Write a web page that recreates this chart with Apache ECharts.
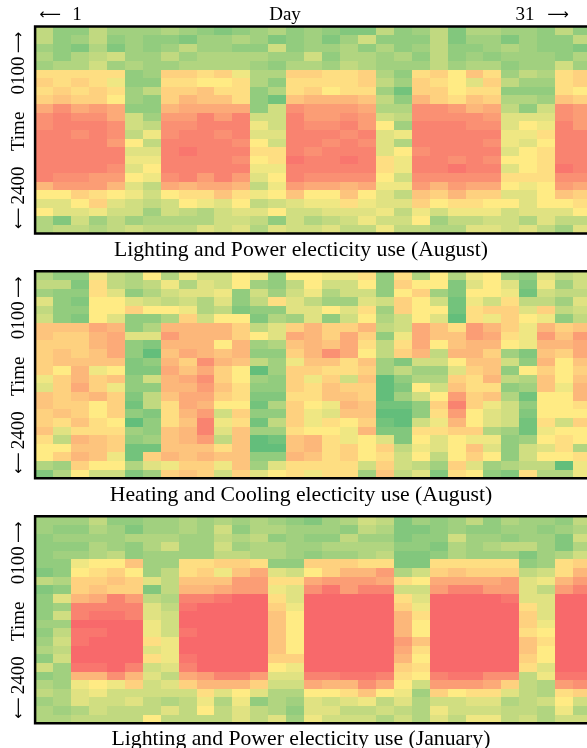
<!DOCTYPE html>
<html><head><meta charset="utf-8">
<style>html,body{margin:0;padding:0;background:#fff;overflow:hidden}#c{width:587px;height:748px}</style>
<script src="https://cdn.jsdelivr.net/npm/echarts@6/dist/echarts.min.js"></script>
</head><body><div id="c"></div>
<script>
const days = ['1','2','3','4','5','6','7','8','9','10','11','12','13','14','15','16','17','18','19','20','21','22','23','24','25','26','27','28','29','30','31'];
const hours = ['0100','0200','0300','0400','0500','0600','0700','0800','0900','1000','1100','1200','1300','1400','1500','1600','1700','1800','1900','2000','2100','2200','2300','2400'];
const captions = ['Lighting and Power electicity use (August)','Heating and Cooling electicity use (August)','Lighting and Power electicity use (January)'];
// values on a 0 (green) .. 10 (yellow) .. 20 (red) scale; rows are hours, columns are days
const lightingAugust = [
[6,3,3,6,4,4,4,5,4,3,2,3,4,5,3,4,3,2,2,6,3,4,6,2,5,5,4,4,3,6,3],
[6,3,4,6,3,4,3,3,2,4,4,5,4,2,3,4,2,4,7,3,3,3,6,2,4,4,2,4,3,3,6],
[4,3,2,5,2,4,3,4,6,4,4,3,3,7,3,4,4,5,3,5,3,4,6,3,3,4,5,4,3,3,2],
[5,3,5,6,7,4,4,6,4,5,5,5,5,4,4,7,3,5,5,4,5,3,6,3,4,3,4,4,4,3,5],
[4,5,5,7,4,5,4,4,5,5,5,5,4,3,5,5,4,6,5,4,4,4,6,4,5,5,3,4,4,7,4],
[11,11,11,11,11,3,4,12,12,11,12,9,5,5,12,12,11,11,12,5,3,11,12,10,13,11,4,6,5,11,12],
[12,11,12,11,9,3,3,11,11,10,10,11,5,3,11,11,11,11,12,6,4,12,11,10,8,12,6,4,4,11,12],
[11,12,11,12,11,4,6,12,12,13,11,11,3,5,11,12,10,11,11,4,1,12,12,10,11,11,3,3,3,11,10],
[12,13,12,12,10,4,3,12,14,13,13,11,3,1,13,14,14,14,13,6,3,14,12,11,13,12,5,5,4,13,12],
[15,17,15,16,15,3,3,14,15,15,15,15,3,7,17,16,16,16,15,5,5,17,17,16,14,15,6,3,7,17,16],
[17,18,17,17,15,7,4,16,16,18,16,18,7,7,18,16,16,17,16,7,6,17,17,17,17,16,8,8,8,17,16],
[17,18,18,18,17,7,6,17,17,18,18,18,9,7,18,17,17,18,16,10,4,18,18,18,17,17,8,10,9,18,16],
[18,18,17,18,17,6,9,17,18,18,17,18,8,8,18,18,18,17,18,8,9,18,18,18,18,18,9,9,11,18,18],
[18,18,18,18,16,10,6,18,18,18,18,17,10,7,18,18,17,18,17,8,5,18,18,18,18,17,9,8,10,18,18],
[18,18,18,18,18,8,8,18,19,18,18,18,11,11,18,17,18,18,18,8,10,17,18,18,18,18,8,10,11,18,18],
[18,18,18,18,18,9,9,18,18,18,18,17,10,11,19,18,18,19,18,11,9,18,18,17,18,17,10,10,11,18,18],
[18,18,18,18,17,8,10,18,18,18,18,18,9,9,18,18,18,18,18,11,9,18,18,19,18,18,8,10,11,19,18],
[18,17,17,16,16,10,9,17,18,16,18,16,8,10,18,17,17,17,17,10,7,17,17,17,17,17,11,11,11,17,17],
[14,16,16,16,14,8,6,15,14,15,15,14,6,9,16,15,15,14,15,9,9,16,14,16,15,15,10,9,10,16,15],
[10,10,12,11,10,9,7,10,11,11,13,11,9,10,13,10,10,13,10,8,6,13,12,14,12,12,8,8,10,13,12],
[8,8,10,12,8,7,6,7,10,9,8,10,6,7,8,9,9,11,9,8,8,12,10,11,11,10,10,8,10,10,11],
[10,8,8,9,7,7,4,7,6,5,7,8,8,10,7,7,8,8,8,9,6,9,7,9,9,9,7,8,8,8,10],
[5,2,7,4,6,4,5,5,5,5,7,7,6,3,7,5,6,7,9,7,7,10,4,6,6,7,7,5,8,6,6],
[5,6,6,5,6,7,6,6,6,8,7,8,5,8,7,7,8,6,6,9,6,6,5,5,8,8,7,8,6,4,8]
];
const hvacAugust = [
[5,3,3,9,6,5,10,5,9,7,7,10,9,3,10,10,9,9,11,3,11,5,10,5,9,10,4,3,8,6,7],
[6,6,2,11,6,5,6,9,5,8,7,10,4,3,6,10,7,7,10,3,12,10,10,2,8,10,8,2,9,4,7],
[4,3,3,11,8,3,5,7,8,8,9,3,7,4,7,9,5,7,7,3,10,12,4,2,10,10,9,1,7,6,6],
[8,3,2,10,10,8,7,6,7,5,8,3,6,11,8,6,4,4,8,7,12,10,7,1,9,7,11,6,6,4,8],
[6,3,3,10,10,12,10,10,9,5,6,2,3,3,8,8,10,8,11,4,12,10,10,1,11,12,12,8,12,6,7],
[7,3,2,10,8,3,3,5,12,7,10,10,2,5,4,8,3,7,10,5,7,10,8,0,11,9,12,10,9,3,6],
[13,13,13,15,14,3,5,14,14,14,14,12,6,8,12,14,12,12,14,6,7,15,13,11,16,14,12,9,14,12,13],
[13,12,12,14,15,8,8,16,14,14,14,12,10,8,15,14,12,15,12,3,9,15,13,13,16,15,11,9,16,13,16],
[12,12,12,14,15,3,2,14,14,14,10,14,4,5,13,14,13,15,11,6,11,15,10,13,14,14,10,9,14,14,15],
[12,13,12,13,15,3,0,13,15,14,13,14,3,3,12,14,17,15,10,6,12,14,6,14,14,12,4,2,13,12,15],
[12,13,13,13,13,2,3,14,12,17,14,13,6,4,9,13,13,11,13,4,2,7,7,10,13,13,7,3,14,10,13],
[12,10,14,9,10,2,2,15,13,15,12,10,0,4,12,12,11,11,12,4,6,4,4,8,12,13,3,10,12,10,12],
[9,12,14,12,13,3,7,14,15,17,12,10,4,3,12,9,12,7,13,0,3,5,5,12,11,14,6,5,13,10,13],
[8,12,15,12,9,3,3,14,14,16,13,11,3,3,12,11,13,12,12,0,2,10,7,13,11,11,3,4,13,9,14],
[13,12,13,14,12,2,6,13,15,15,12,11,2,2,11,11,13,13,12,0,4,7,10,16,12,13,5,1,10,10,14],
[13,12,12,10,12,1,6,11,15,14,10,10,1,5,12,10,9,14,13,1,1,3,12,18,12,9,7,3,10,10,11],
[12,13,12,10,12,3,2,11,14,16,7,12,3,3,12,9,8,13,13,0,0,3,11,16,10,8,7,2,10,10,10],
[12,11,13,11,10,0,3,11,13,18,9,11,1,6,12,9,11,10,12,1,0,7,9,14,10,8,7,1,11,7,12],
[13,8,11,11,11,4,3,13,14,18,8,13,4,4,11,10,10,9,14,2,2,11,11,12,12,5,4,1,9,10,10],
[11,6,14,13,12,3,4,13,14,16,6,13,0,1,13,14,11,9,10,8,2,10,8,10,9,9,3,4,10,11,10],
[10,10,13,13,12,1,1,13,13,13,11,13,0,0,13,14,11,12,10,12,6,9,8,10,13,8,3,7,8,11,5],
[10,12,14,13,9,1,12,14,13,14,13,13,3,3,14,13,11,12,10,11,7,10,6,10,12,10,3,7,10,10,11],
[5,4,12,10,10,5,8,9,12,12,9,13,4,8,11,11,11,11,7,12,7,6,4,12,8,4,5,6,6,0,9],
[2,5,10,7,7,2,4,12,13,12,7,12,8,10,11,9,11,11,4,13,6,8,2,11,10,3,2,11,5,5,9]
];
const lightingJanuary = [
[4,4,4,6,3,3,4,4,5,4,5,4,5,4,3,2,4,5,7,6,2,4,3,4,6,3,5,4,4,3,6],
[4,3,3,5,4,2,4,4,5,4,7,3,5,5,4,4,4,3,6,5,2,2,3,4,3,3,4,4,3,4,5],
[3,4,4,4,4,5,5,5,4,4,6,5,6,3,4,3,3,6,4,4,2,3,3,7,4,4,3,4,4,2,7],
[3,3,3,5,4,3,5,7,4,4,7,4,5,5,4,4,5,5,5,5,3,3,2,5,4,5,6,6,4,2,5],
[3,4,4,5,6,3,4,4,4,4,6,6,5,5,4,3,4,4,5,6,2,2,3,5,4,4,4,2,4,5,7],
[3,3,9,10,10,13,4,4,11,11,12,12,11,3,3,12,12,12,11,11,2,2,11,11,11,11,11,3,4,11,12],
[2,3,10,11,12,10,4,6,11,12,9,13,15,8,7,10,12,14,14,16,5,7,12,13,12,12,12,6,7,11,14],
[6,5,12,12,13,12,8,6,13,13,13,16,16,11,11,15,16,16,16,15,11,10,15,15,15,15,16,8,9,14,16],
[2,3,12,13,12,12,2,6,14,14,15,16,16,9,8,17,19,16,18,18,7,7,16,18,18,16,16,8,6,16,18],
[3,8,14,15,18,16,6,5,18,18,19,20,20,11,8,20,20,20,20,20,11,8,20,20,20,20,19,8,8,20,20],
[3,4,18,18,18,18,8,6,19,20,20,20,20,12,9,20,20,20,20,20,12,9,20,20,20,20,20,11,8,20,20],
[3,7,18,19,19,18,8,7,20,20,20,20,20,13,10,20,20,20,20,20,14,11,20,20,20,20,20,12,8,20,20],
[4,4,20,20,20,20,9,7,20,20,20,20,20,13,10,20,20,20,20,20,14,10,20,20,20,20,20,12,9,20,20],
[3,6,19,19,20,20,9,7,19,20,20,20,20,13,10,20,20,20,20,20,14,10,20,20,20,20,20,11,10,20,20],
[4,7,19,20,20,20,11,9,20,20,20,20,20,13,10,20,20,20,20,20,16,13,20,20,20,20,20,13,11,20,20],
[5,6,20,20,20,20,8,9,20,20,20,20,20,13,10,20,20,20,20,20,15,11,20,20,20,20,20,13,10,20,20],
[3,7,20,20,20,20,11,9,19,20,20,20,20,12,12,20,20,20,20,20,14,10,20,20,20,20,20,12,10,20,20],
[7,4,19,19,20,18,7,8,18,20,20,20,20,10,9,20,20,20,20,20,12,11,20,20,20,20,20,11,8,20,20],
[3,4,14,14,17,14,8,6,15,16,18,18,16,8,8,18,18,19,19,18,11,10,18,19,19,17,17,6,9,19,19],
[5,4,9,10,9,12,7,8,12,14,14,14,12,7,7,15,14,14,17,15,10,7,16,16,16,15,12,6,5,16,17],
[6,5,8,9,7,7,7,7,7,11,8,10,8,5,5,10,10,11,13,10,9,4,12,10,11,11,8,6,5,11,12],
[4,5,8,7,7,8,6,5,6,9,5,9,3,5,4,8,7,8,9,6,8,5,7,7,8,8,5,6,7,10,7],
[5,4,5,7,6,6,6,8,6,10,6,8,6,5,3,8,8,6,6,7,6,5,9,7,7,7,6,6,5,9,5],
[5,5,6,6,6,6,10,6,6,6,6,8,6,8,4,9,7,7,7,5,7,5,8,6,9,9,6,7,5,7,7]
];
const serif = '"Liberation Serif","Times New Roman",serif';
const arrowFont = '"DejaVu Sans",sans-serif';
const panelTops = [26.4, 271.3, 516.3];
const captionOffsets = [224, 224, 223];
const panelHeight = 207;
const panels = [lightingAugust, hvacAugust, lightingJanuary];

// cells snapped to whole pixels through the axis scales, so neighbours of equal value show no seam
const renderCell = (params, api) => {
  const c = api.coord([api.value(0), api.value(1)]);
  const s = api.size([1, 1]);
  const x0 = Math.round(c[0] - s[0] / 2), x1 = Math.round(c[0] + s[0] / 2);
  const y0 = Math.round(c[1] - s[1] / 2), y1 = Math.round(c[1] + s[1] / 2);
  return {type:'rect', shape:{x:x0, y:y0, width:x1-x0, height:y1-y0}, style:{fill:api.visual('color')}};
};

const grids = [], xAxes = [], yAxes = [], series = [], graphics = [];
const txt = (x, y, text, size, rot, family) => ({type:'text', x, y, rotation: rot ? Math.PI/2 : 0, z: 20,
  style:{text, font:size+'px '+(family||serif), fill:'#000', align:'center', verticalAlign:'middle'}});
panels.forEach((rows, p) => {
  grids.push({left:35.1, top:panelTops[p], width:556, height:panelHeight, show:true, z:10, outerBoundsMode:'none',
    backgroundColor:'transparent', borderColor:'#000', borderWidth:2.5, containLabel:false});
  xAxes.push({type:'category', data:days, gridIndex:p, show:false});
  yAxes.push({type:'category', data:hours, gridIndex:p, inverse:true, show:false});
  const data = [];
  rows.forEach((row, h) => row.forEach((v, d) => data.push([d, h, v])));
  series.push({type:'custom', renderItem:renderCell, xAxisIndex:p, yAxisIndex:p, data, encode:{x:0, y:1}, clip:true, animation:false, silent:true, progressive:0});
  const top = panelTops[p];
  graphics.push(txt(301, top+captionOffsets[p], captions[p], 21.7));
  graphics.push(txt(19, top+49, hours[0], 19, true));
  graphics.push(txt(19, top+16, '⟶', 15, true, arrowFont));
  graphics.push(txt(19, top+105, 'Time', 19, true));
  graphics.push(txt(19, top+159, hours[23], 19, true));
  graphics.push(txt(19, top+192, '⟵', 15, true, arrowFont));
});
graphics.push(txt(50,15,'⟵',15,false,arrowFont), txt(77,15,days[0],19), txt(285,15,'Day',19), txt(525,15,days[30],19), txt(558,15,'⟶',15,false,arrowFont));

const chart = echarts.init(document.getElementById('c'), null, {renderer:'canvas'});
chart.setOption({
  animation:false,
  grid:grids, xAxis:xAxes, yAxis:yAxes, series,
  visualMap:{show:false, min:0, max:20, dimension:2, seriesIndex:[0,1,2], inRange:{color:['#63be7b','#ffeb84','#f8696b']}},
  graphic:graphics
});
</script></body></html>
